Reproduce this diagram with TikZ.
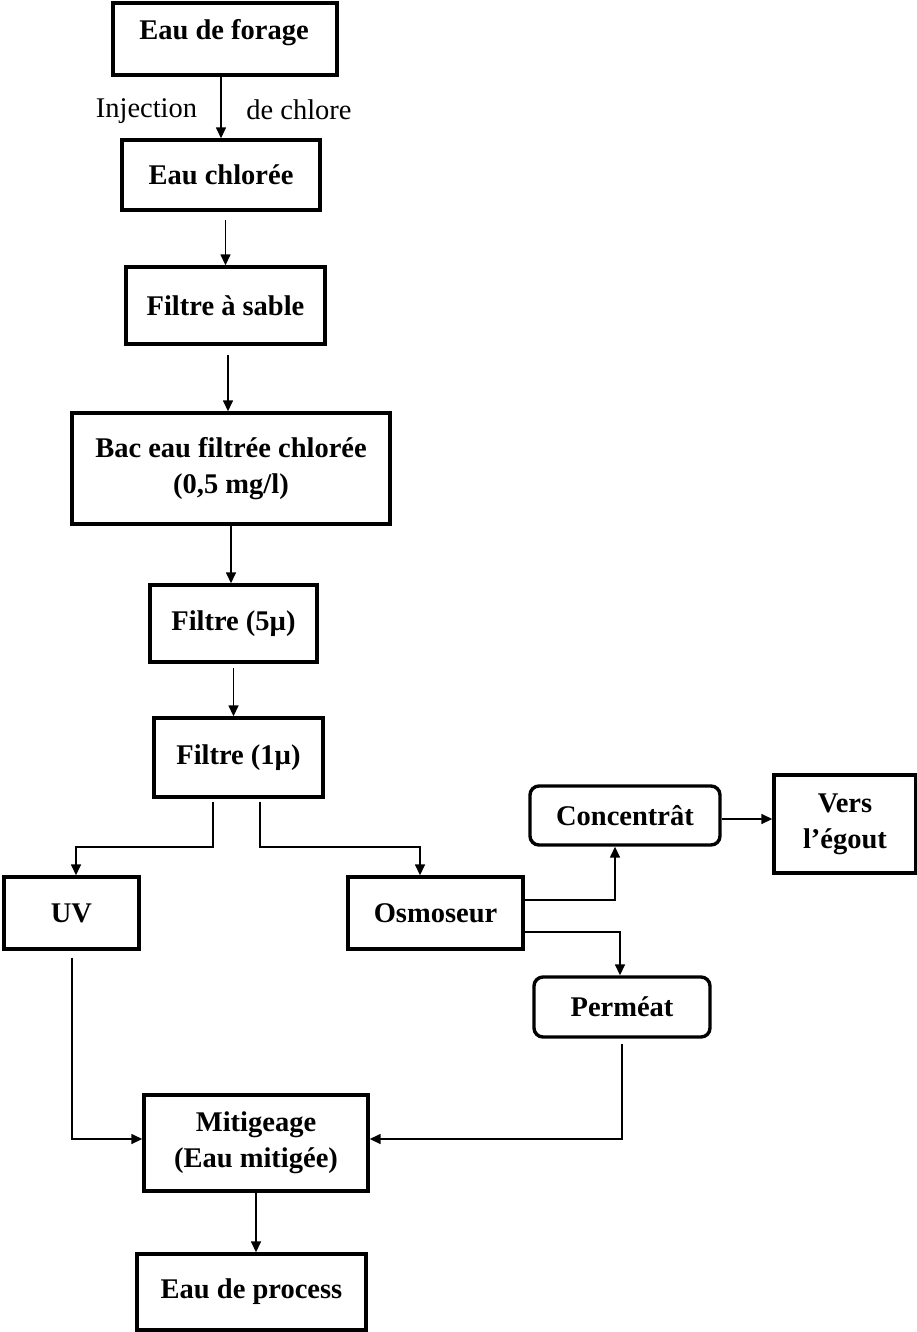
\documentclass[tikz,border=0pt]{standalone}
\usepackage{fontspec}
\setmainfont{Liberation Serif}
\usetikzlibrary{arrows.meta}
\begin{document}
\begin{tikzpicture}[x=1pt,y=-1pt,
  box/.style={draw, line width=3.4pt, font=\fontsize{28.5}{36}\selectfont\bfseries,
              align=center, inner sep=0pt},
  rbox/.style={box, rounded corners=9pt},
  flow/.style={line width=1.5pt, -{Triangle[length=11pt,width=10pt]}},
  note/.style={font=\fontsize{28.5}{36}\selectfont, inner sep=0pt},
  title/.style={font=\fontsize{28.5}{36}\selectfont\bfseries, inner sep=0pt}
]
\useasboundingbox (0,0) rectangle (917,1332);

% process boxes
\node[box, minimum width=224pt, minimum height=72pt] (forage) at (225,39) {};
\node[title, anchor=base] (forageTxt) at (224,40) {Eau de forage};
\node[box, minimum width=198pt, minimum height=70pt] (chloree) at (221,175) {Eau chlorée};
\node[box, minimum width=199pt, minimum height=77pt] (sable) at (225.5,305.5) {Filtre à sable};
\node[box, minimum width=318pt, minimum height=111pt] (bac) at (231,468.5) {Bac eau filtrée chlorée\\(0,5 mg/l)};
\node[box, minimum width=167pt, minimum height=77pt] (f5) at (233.5,623.5) {Filtre (5µ)};
\node[box, minimum width=169pt, minimum height=79pt] (f1) at (238.5,757.5) {Filtre (1µ)};
\node[box, minimum width=135pt, minimum height=72pt] (uv) at (71.5,913) {UV};
\node[box, minimum width=175pt, minimum height=72pt] (osm) at (435.5,913) {Osmoseur};
\node[rbox, minimum width=190pt, minimum height=59pt] (conc) at (625,815.5) {Concentrât};
\node[box, minimum width=142pt, minimum height=98pt] (vers) at (845,824) {Vers\\l’égout};
\node[rbox, minimum width=176pt, minimum height=60pt] (perm) at (622,1007) {Perméat};
\node[box, minimum width=224pt, minimum height=96pt] (mitig) at (256,1143) {Mitigeage\\(Eau mitigée)};
\node[box, minimum width=229pt, minimum height=76pt] (proc) at (251.5,1292) {Eau de process};

% labels beside the first connector
\node[note, anchor=base] (inj) at (146.5,118) {Injection};
\node[note, anchor=base] (chl) at (299,120) {de chlore};

% routing points of the connectors
\coordinate (xSB) at (228,0);
\coordinate (jL) at (213,847);
\coordinate (jUV) at (76,847);
\coordinate (jR) at (260,847);
\coordinate (jOs) at (420,847);
\coordinate (jC) at (615,900);
\coordinate (jP) at (620,932);
\coordinate (yV) at (0,819);
\coordinate (jM1) at (72,1139);
\coordinate (jM2) at (622,1139);

% main line
\draw[flow] (forage.south -| chloree.north) -- (chloree.north);
\draw[flow, shorten <=8pt] (chloree.south -| sable.north) -- (sable.north);
\draw[flow, shorten <=9pt] (sable.south -| xSB) -- (bac.north -| xSB);
\draw[flow] (bac.south) -- (bac.south |- f5.north);
\draw[flow, shorten <=4pt] (f5.south) -- (f5.south |- f1.north);

% branches after the 1 µ filter
\draw[flow, shorten <=3pt] (f1.south -| jL) -- (jL) -- (jUV) -- (jUV |- uv.north);
\draw[flow, shorten <=3pt] (f1.south -| jR) -- (jR) -- (jOs) -- (jOs |- osm.north);

% reverse osmosis outputs
\draw[flow] (osm.east |- jC) -- (jC) -- (jC |- conc.south);
\draw[flow] (osm.east |- jP) -- (jP) -- (jP |- perm.north);
\draw[flow] (conc.east |- yV) -- (vers.west |- yV);

% blending
\draw[flow, shorten <=7pt] (uv.south -| jM1) -- (jM1) -- (mitig.west |- jM1);
\draw[flow, shorten <=5pt] (perm.south -| jM2) -- (jM2) -- (mitig.east |- jM2);
\draw[flow] (mitig.south) -- (mitig.south |- proc.north);
\end{tikzpicture}
\end{document}
